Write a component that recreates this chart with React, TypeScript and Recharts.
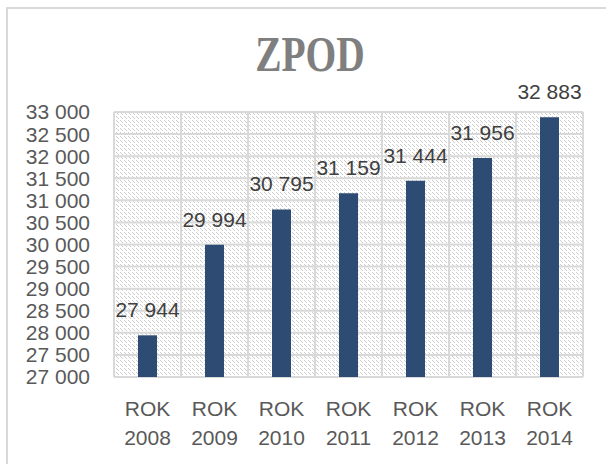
import React from 'react';
import { BarChart, Bar, XAxis, YAxis, CartesianGrid, LabelList } from 'recharts';

const categories = ['ROK 2008', 'ROK 2009', 'ROK 2010', 'ROK 2011', 'ROK 2012', 'ROK 2013', 'ROK 2014'];
const values = [27944, 29994, 30795, 31159, 31444, 31956, 32883];
const yTicks = [27000, 27500, 28000, 28500, 29000, 29500, 30000, 30500, 31000, 31500, 32000, 32500, 33000];
const title = 'ZPOD';

const data = categories.map((c, i) => ({ name: c, value: values[i] }));

const fmt = (v: number) => String(v).replace(/\B(?=(\d{3})+(?!\d))/g, ' ');
const FONT = '"Liberation Sans", Arial, sans-serif';

const XTick = (props: any) => {
  const { x, y, payload } = props;
  const parts = String(payload.value).split(' ');
  return (
    <text textAnchor="middle" fill="#595959" fontSize={21} fontFamily={FONT}>
      <tspan x={x} y={y + 39}>{parts[0]}</tspan>
      <tspan x={x} y={y + 68}>{parts[1]}</tspan>
    </text>
  );
};

const TopLabel = (props: any) => {
  const { x, y, width, value } = props;
  return (
    <text x={Number(x) + Number(width) / 2} y={Number(y) - 18} textAnchor="middle" fill="#404040" fontSize={21} fontFamily={FONT}>
      {fmt(Number(value))}
    </text>
  );
};

const px = (x: number, y: number) => <rect key={`${x}-${y}`} x={x} y={y} width={1} height={1} fill="#cdcdcd" />;

export default function App() {
  const dots: [number, number][] = [
    [0, 0], [1, 1], [2, 2], [4, 4], [5, 5], [6, 6],
  ];
  return (
    <div style={{ position: 'absolute', left: 0, top: 0, width: 606, height: 464, background: '#fff' }}>
      <svg width={0} height={0} style={{ position: 'absolute' }}>
        <defs>
          <pattern id="hatch" patternUnits="userSpaceOnUse" width={8} height={8}>
            <rect x={0} y={0} width={8} height={8} fill="#ffffff" />
            {dots.map(([x, y]) => px(x, y))}
            {dots.map(([x, y]) => px((x + 4) % 8, y))}
          </pattern>
        </defs>
      </svg>
      <div style={{ position: 'absolute', left: 6, top: 7, width: 600, height: 457, borderLeft: '2px solid #d9d9d9', borderTop: '2px solid #d9d9d9' }} />
      <div style={{ position: 'absolute', left: 210, top: 28, width: 200, height: 52, textAlign: 'center', fontFamily: '"Liberation Serif", "DejaVu Serif", serif', fontWeight: 'bold', fontSize: 42, color: '#7f7f7f', lineHeight: '52px', transform: 'scale(0.94, 1.2)', transformOrigin: '50% 50%' }}>
        {title}
      </div>
      <div style={{ position: 'absolute', left: 0, top: 0 }}>
        <BarChart width={606} height={464} data={data} margin={{ top: 112, right: 23, bottom: 0, left: 0 }} barCategoryGap={0}>
          <CartesianGrid
            stroke="#d9d9d9"
            strokeWidth={2}
            fill="url(#hatch)"
            fillOpacity={1}
            horizontalValues={yTicks}
            verticalCoordinatesGenerator={({ offset }: any) =>
              categories.map((_, i) => offset.left + (i * offset.width) / categories.length).concat([offset.left + offset.width])
            }
          />
          <XAxis dataKey="name" axisLine={false} tickLine={false} tickSize={0} tickMargin={0} height={87} interval={0} tick={<XTick />} />
          <YAxis
            domain={[27000, 33000]}
            ticks={yTicks}
            interval={0}
            axisLine={false}
            tickLine={false}
            tickSize={0}
            tickMargin={24}
            width={114}
            tickFormatter={fmt}
            tick={{ fill: '#595959', fontSize: 21, fontFamily: FONT }}
          />
          <Bar dataKey="value" fill="#2d4b73" barSize={19} isAnimationActive={false}>
            <LabelList dataKey="value" content={<TopLabel />} />
          </Bar>
        </BarChart>
      </div>
    </div>
  );
}
